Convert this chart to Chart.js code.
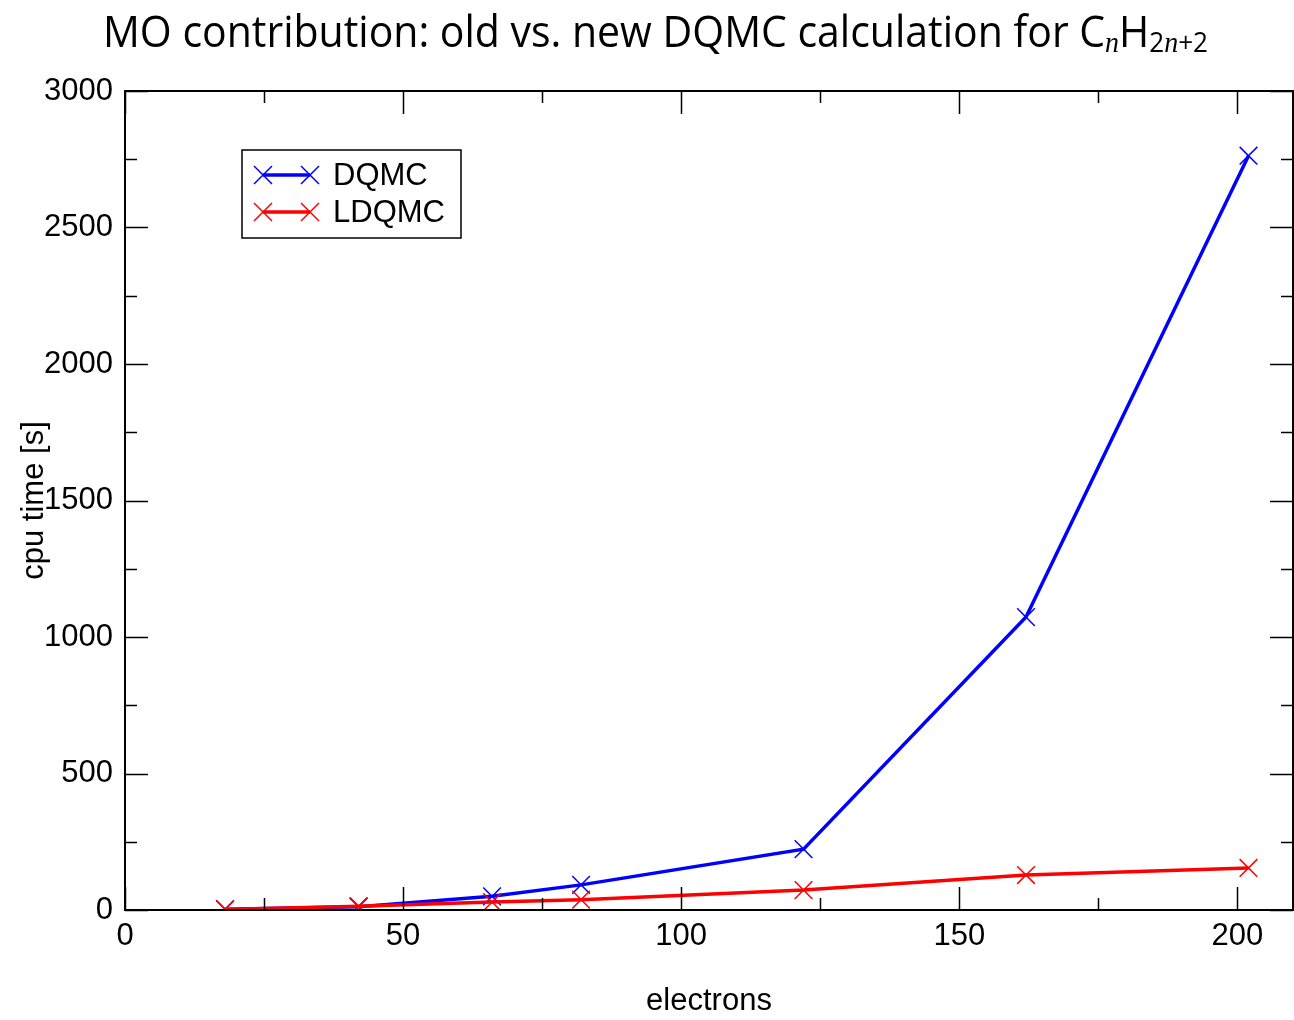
<!DOCTYPE html>
<html>
<head>
<meta charset="utf-8">
<script src="https://cdn.jsdelivr.net/npm/chart.js@4.4.1/dist/chart.umd.min.js"></script>
<style>
  html, body { margin: 0; padding: 0; background: #fff; }
  canvas { display: block; }
</style>
</head>
<body>
<canvas id="chart" width="1294" height="1020"></canvas>
<script>
// Data
const electrons = [18, 42, 66, 82, 122, 162, 202];
const dqmcTime = [3, 12, 50, 92, 223, 1073, 2763];
const ldqmcTime = [2, 14, 29, 38, 73, 128, 154];
const xTicks = { min: 0, max: 210, step: 50, minor: 25 };
const yTicks = { min: 0, max: 3000, step: 500, minor: 250 };

const toPoints = (xs, ys) => xs.map((x, i) => ({ x, y: ys[i] }));

// Title with subscripts, drawn on the canvas
function drawTitle(ctx) {
  const main = '44px "Open Sans", "DejaVu Sans", sans-serif';
  const sub = '28px "Open Sans", "DejaVu Sans", sans-serif';
  const subIt = 'italic 30px "Liberation Serif", serif';
  const parts = [
    { t: 'MO contribution: old vs. new DQMC calculation for C', font: main, dy: 0 },
    { t: 'n', font: subIt, dy: 5 },
    { t: 'H', font: main, dy: 0 },
    { t: '2', font: sub, dy: 5 },
    { t: 'n', font: subIt, dy: 5 },
    { t: '+2', font: sub, dy: 5 }
  ];
  ctx.save();
  let total = 0;
  parts.forEach(p => { ctx.font = p.font; p.w = ctx.measureText(p.t).width; total += p.w; });
  const sx = 1105 / total;
  ctx.translate(103, 47);
  ctx.scale(sx, 1);
  ctx.fillStyle = '#000';
  ctx.textBaseline = 'alphabetic';
  let x = 0;
  parts.forEach(p => {
    ctx.font = p.font;
    ctx.fillText(p.t, x, p.dy);
    x += p.w;
  });
  ctx.restore();
}

function drawCross(ctx, x, y, r, color) {
  ctx.strokeStyle = color;
  ctx.lineWidth = 1.5;
  ctx.beginPath();
  ctx.moveTo(x - r, y - r); ctx.lineTo(x + r, y + r);
  ctx.moveTo(x - r, y + r); ctx.lineTo(x + r, y - r);
  ctx.stroke();
}

function drawLegend(ctx) {
  const items = [
    { label: 'DQMC', color: '#0000ff', y: 175 },
    { label: 'LDQMC', color: '#ff0000', y: 212 }
  ];
  ctx.save();
  ctx.fillStyle = '#fff';
  ctx.fillRect(242, 150, 219, 88);
  ctx.strokeStyle = '#000';
  ctx.lineWidth = 1.5;
  ctx.strokeRect(242, 150, 219, 88);
  ctx.font = '31px "Liberation Sans", Arial, sans-serif';
  ctx.textBaseline = 'middle';
  items.forEach(it => {
    ctx.strokeStyle = it.color;
    ctx.lineWidth = 3.5;
    ctx.beginPath();
    ctx.moveTo(263, it.y); ctx.lineTo(310, it.y);
    ctx.stroke();
    drawCross(ctx, 263, it.y, 9, it.color);
    drawCross(ctx, 310, it.y, 9, it.color);
    ctx.fillStyle = '#000';
    ctx.fillText(it.label, 333, it.y + 1);
  });
  ctx.restore();
}

// Frame and inward ticks on all four sides
const framePlugin = {
  id: 'frame',
  afterDatasetsDraw(chart) {
    const { ctx, chartArea: a, scales: { x, y } } = chart;
    ctx.save();
    ctx.strokeStyle = '#000';
    ctx.lineWidth = 1.5;
    ctx.beginPath();
    for (let v = xTicks.min; v <= xTicks.max; v += xTicks.minor) {
      const len = v % xTicks.step === 0 ? 23 : 12;
      const px = Math.round(x.getPixelForValue(v)) + 0.5;
      ctx.moveTo(px, a.bottom); ctx.lineTo(px, a.bottom - len);
      ctx.moveTo(px, a.top); ctx.lineTo(px, a.top + len);
    }
    for (let v = yTicks.min; v <= yTicks.max; v += yTicks.minor) {
      const len = v % yTicks.step === 0 ? 23 : 12;
      const py = Math.round(y.getPixelForValue(v)) + 0.5;
      ctx.moveTo(a.left, py); ctx.lineTo(a.left + len, py);
      ctx.moveTo(a.right, py); ctx.lineTo(a.right - len, py);
    }
    ctx.stroke();
    ctx.lineWidth = 2;
    ctx.strokeRect(a.left, a.top, a.right - a.left, a.bottom - a.top);
    ctx.restore();
    drawLegend(ctx);
  },
  afterDraw(chart) {
    drawTitle(chart.ctx);
  }
};

const tickFont = { family: '"Liberation Sans", Arial, sans-serif', size: 31 };
const plain = v => String(v);

new Chart(document.getElementById('chart'), {
  type: 'line',
  data: {
    datasets: [
      {
        label: 'DQMC',
        data: toPoints(electrons, dqmcTime),
        borderColor: '#0000ff',
        backgroundColor: '#0000ff',
        borderWidth: 3.5,
        pointStyle: 'crossRot',
        pointRadius: 12.5,
        pointBorderWidth: 1.5,
        tension: 0,
        order: 2
      },
      {
        label: 'LDQMC',
        data: toPoints(electrons, ldqmcTime),
        borderColor: '#ff0000',
        backgroundColor: '#ff0000',
        borderWidth: 3.5,
        pointStyle: 'crossRot',
        pointRadius: 12.5,
        pointBorderWidth: 1.5,
        tension: 0,
        order: 1
      }
    ]
  },
  options: {
    responsive: false,
    animation: false,
    devicePixelRatio: 1,
    layout: { autoPadding: false, padding: { top: 91, right: 1, left: 0, bottom: 0 } },
    plugins: {
      legend: { display: false },
      tooltip: { enabled: false },
      title: { display: false }
    },
    scales: {
      x: {
        type: 'linear',
        min: xTicks.min,
        max: xTicks.max,
        grid: { display: false, drawTicks: false },
        border: { display: false },
        ticks: { stepSize: xTicks.step, includeBounds: false, color: '#000', font: tickFont, padding: 8, maxRotation: 0, callback: plain },
        title: { display: true, text: 'electrons', color: '#000', font: { family: tickFont.family, size: 31, lineHeight: 1.2 }, padding: { top: 0, bottom: 0 } },
        afterFit(scale) {
          scale.height = 110;
          scale.paddingLeft = 0;
          scale.paddingRight = 0;
        }
      },
      y: {
        type: 'linear',
        min: yTicks.min,
        max: yTicks.max,
        grid: { display: false, drawTicks: false },
        border: { display: false },
        ticks: { stepSize: yTicks.step, color: '#000', font: tickFont, padding: 12, callback: plain },
        title: { display: true, text: 'cpu time [s]', color: '#000', font: { family: tickFont.family, size: 31, lineHeight: 1.2 }, padding: { top: 16, bottom: 0 } },
        afterFit(scale) {
          scale.width = 125;
          scale.paddingTop = 0;
          scale.paddingBottom = 0;
        }
      }
    }
  },
  plugins: [framePlugin]
});
</script>
</body>
</html>
